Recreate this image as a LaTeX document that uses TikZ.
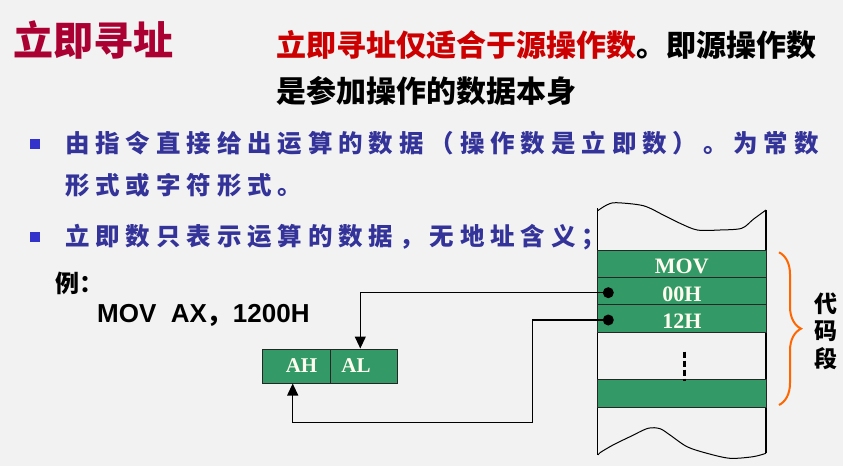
\documentclass[tikz,border=0pt]{standalone}
\usepackage{fontspec}
\usetikzlibrary{arrows.meta,decorations.pathreplacing}
\newfontfamily\cjk{Noto Sans CJK SC}
\newfontfamily\cjkspaced{Noto Sans CJK SC}[LetterSpace=24]
\newfontfamily\tnr{Liberation Serif}
\newfontfamily\arialf{Liberation Sans}
\definecolor{bg}{RGB}{242,242,242}
\definecolor{titlered}{RGB}{170,0,50}
\definecolor{headred}{RGB}{204,0,0}
\definecolor{textblue}{RGB}{51,51,153}
\definecolor{bulletblue}{RGB}{51,51,204}
\definecolor{cellgreen}{RGB}{51,153,102}
\definecolor{braceorange}{RGB}{255,102,0}
\definecolor{celltext}{RGB}{255,255,240}
\tikzset{
  cell/.style={draw=black!85, line width=1pt, fill=cellgreen, rectangle, inner sep=0pt,
    text=celltext, font=\tnr\bfseries\fontsize{22}{22}\selectfont, text height=20pt, text depth=0pt},
  regcell/.style={draw=black!85, line width=1pt, fill=cellgreen, rectangle, inner sep=0pt,
    text=celltext, font=\tnr\bfseries\fontsize{21}{21}\selectfont},
  dotnode/.style={circle, fill=black, inner sep=0pt, minimum size=11pt},
  conn/.style={line width=1.2pt, -{Triangle[length=12pt,width=11pt]}},
  bulletsq/.style={rectangle, fill=bulletblue, inner sep=0pt, minimum size=10pt},
  btext/.style={anchor=west, inner sep=0pt, text=textblue, font=\cjkspaced\bfseries\fontsize{24.5}{24.5}\selectfont},
  headtext/.style={anchor=west, inner sep=0pt, font=\cjk\bfseries\fontsize{30}{30}\selectfont},
}
\begin{document}
\begin{tikzpicture}[x=1pt,y=-1pt]
\fill[bg] (0,0) rectangle (843,466);
\useasboundingbox (0,0) rectangle (843,466);

% titles
\node[anchor=west, inner sep=0pt, text=titlered, font=\cjk\bfseries\fontsize{40}{40}\selectfont] (title) at (13,40) {立即寻址};
\node[headtext] (head1) at (276,45) {\textcolor{headred}{立即寻址仅适合于源操作数}。即源操作数};
\node[headtext] (head2) at (276,91) {是参加操作的数据本身};

% bullets
\node[bulletsq] (b1) at (35,143.5) {};
\node[bulletsq] (b2) at (35,236.7) {};
\node[btext] (t1) at (65,143) {由指令直接给出运算的数据（操作数是立即数）。为常数};
\node[btext] (t2) at (65,185) {形式或字符形式。};
\node[btext] (t3) at (65,237) {立即数只表示运算的数据，无地址含义；};

% example
\node[anchor=west, inner sep=0pt, font=\cjk\bfseries\fontsize{24}{24}\selectfont] (ex) at (55,283) {例：};
\node[anchor=west, inner sep=0pt, font=\arialf\bfseries\fontsize{26}{26}\selectfont] (instr) at (97,315) {MOV\ \ AX{\cjk\bfseries ，}1200H};

% register box
\node[regcell, minimum width=67.6pt, minimum height=34pt] (ah) at (296.5,366) {\kern10pt AH};
\node[regcell, minimum width=67.4pt, minimum height=34pt] (al) at (364,366) {AL\kern16pt\relax};

% memory column
\draw[line width=1.3pt] (597.7,208) -- (597.7,455);
\draw[line width=1.3pt] (766,210) -- (766,453.3);
\draw[line width=1pt] plot[smooth] coordinates {(597.7,210.7) (606.7,205) (616,202.7) (643.3,205.7) (663.3,215) (680,223.3) (697.3,230) (720,230) (741.7,228.3) (753.3,219.3) (766,210)};
\draw[line width=1pt] plot[smooth] coordinates {(598.3,455) (600,452.7) (613,445) (630,436.7) (648,428.3) (660,428.7) (670,435) (687,446.7) (707,453.3) (730,458.3) (753,456.7) (766,453.3)};

\node[cell, minimum width=168.3pt, minimum height=27.7pt] (mov) at (681.85,263.85) {MOV};
\node[cell, minimum width=168.3pt, minimum height=26.6pt] (r00) at (681.85,291) {00H};
\node[cell, minimum width=168.3pt, minimum height=28pt] (r12) at (681.85,318.3) {12H};
\node[cell, minimum width=168.3pt, minimum height=28.4pt] (rlast) at (681.85,393.5) {};

\draw[line width=3pt, dash pattern=on 6pt off 3pt] (684.3,351.7) -- (684.3,380.7);

% dots and connectors
\node[dotnode] (d1) at (608.3,292.7) {};
\node[dotnode] (d2) at (608.3,320) {};
\draw[conn] (d1.center) -| ([xshift=-3.7pt]al.north);
\coordinate (bend) at (532.7,422.7);
\draw[conn] (d2.center) -| (bend) -| ([xshift=-3.8pt]ah.south);

% brace
\draw[braceorange, line width=2pt, decorate, decoration={brace, amplitude=22pt}] (779,252.3) -- (779,405);
\node[align=center, inner sep=0pt, font=\cjk\bfseries\fontsize{23}{27.5}\selectfont] (seg) at (826,331) {代\\码\\段};
\end{tikzpicture}
\end{document}
